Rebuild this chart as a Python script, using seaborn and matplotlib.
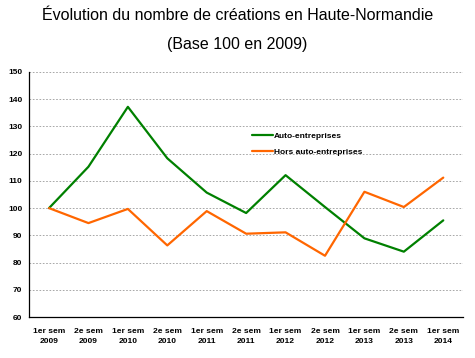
import numpy as np
import pandas as pd
import matplotlib
matplotlib.use("Agg")
import matplotlib.pyplot as plt
import seaborn as sns
from matplotlib.ticker import FixedLocator, NullFormatter

# ================================================================
# DONNÉES
# ================================================================
periodes = ["1er sem\n2009", "2e sem\n2009", "1er sem\n2010", "2e sem\n2010",
            "1er sem\n2011", "2e sem\n2011", "1er sem\n2012", "2e sem\n2012",
            "1er sem\n2013", "2e sem\n2013", "1er sem\n2014"]
auto_entreprises = [100, 115.2, 137.2, 118.3, 105.7, 98.2, 112.1, 100.4, 88.9, 84.0, 95.5]
hors_auto = [100, 94.5, 99.7, 86.3, 98.9, 90.6, 91.1, 82.5, 106.0, 100.4, 111.2]

series = ["Auto-entreprises", "Hors auto-entreprises"]
couleurs = ["#008000", "#FF6600"]

df = pd.DataFrame({
    "pos": list(range(len(periodes))) * 2,
    "valeur": auto_entreprises + hors_auto,
    "serie": [series[0]] * len(periodes) + [series[1]] * len(periodes),
})

# ================================================================
# GRAPHIQUE
# ================================================================
sns.set_style("white")
plt.rcParams["font.family"] = ["Liberation Sans", "DejaVu Sans"]
plt.rcParams["text.color"] = "black"
plt.rcParams["xtick.color"] = "black"
plt.rcParams["ytick.color"] = "black"

fig = plt.figure(figsize=(4.75, 3.58), dpi=100)
ax = fig.add_axes([0.0617, 0.1145, 0.913, 0.6844])

sns.lineplot(data=df, x="pos", y="valeur", hue="serie", hue_order=series,
             palette=couleurs, linewidth=1.6, ax=ax)

ax.set_xlim(-0.5, len(periodes) - 0.5)
ax.set_ylim(60, 150)
ax.set_yticks(range(60, 151, 10))
ax.set_xticks(range(len(periodes)))
ax.set_xticklabels(periodes, fontsize=6, fontweight="bold", linespacing=1.5)
ax.xaxis.set_minor_locator(FixedLocator(np.arange(-0.5, len(periodes), 1.0)))
ax.xaxis.set_minor_formatter(NullFormatter())
ax.tick_params(axis="x", which="major", length=0, pad=8)
ax.tick_params(axis="x", which="minor", length=3, width=0.8, color="black")
ax.tick_params(axis="y", length=3, width=0.8, color="black", labelsize=6, pad=2)
for lab in ax.get_yticklabels():
    lab.set_fontweight("bold")

ax.yaxis.grid(True, linestyle=(0, (2, 2)), color="#999999", linewidth=0.6)
ax.set_axisbelow(True)
for s in ["top", "right"]:
    ax.spines[s].set_visible(False)
for s in ["left", "bottom"]:
    ax.spines[s].set_color("black")
    ax.spines[s].set_linewidth(0.9)

ax.set_xlabel("")
ax.set_ylabel("")

leg = ax.legend(loc="upper left", bbox_to_anchor=(0.505, 0.77), frameon=False,
                prop={"size": 6, "weight": "bold"}, handlelength=2.6,
                handletextpad=0.1, labelspacing=1.05, borderaxespad=0)

fig.text(0.5, 0.958, "Évolution du nombre de créations en Haute-Normandie",
         ha="center", va="center", fontsize=11.5)
fig.text(0.5, 0.877, "(Base 100 en 2009)", ha="center", va="center", fontsize=11.5)

fig.savefig("out.png", dpi=100)
